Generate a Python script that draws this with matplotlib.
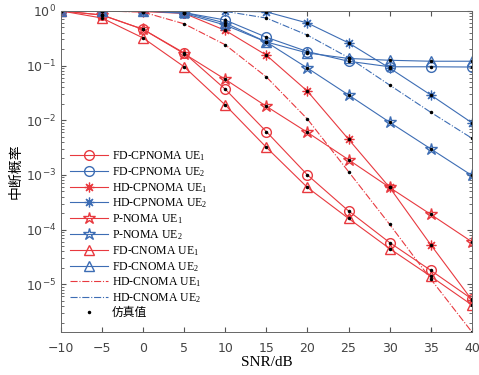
import numpy as np
import matplotlib.pyplot as plt

plt.rcParams['mathtext.default'] = 'regular'

snr = [-10, -5, 0, 5, 10, 15, 20, 25, 30, 35, 40]

# outage probability
fd_cp_ue1 = [1, 0.84, 0.46, 0.17, 0.037, 0.0062, 1.0e-3, 2.2e-4, 5.8e-5, 1.8e-5, 5.4e-6]
fd_cp_ue2 = [1, 1, 1, 0.93, 0.68, 0.33, 0.18, 0.12, 0.095, 0.095, 0.094]
hd_cp_ue1 = [1, 0.98, 0.97, 0.9, 0.44, 0.155, 0.034, 4.5e-3, 5.9e-4, 5.3e-5, 5.2e-6]
hd_cp_ue2 = [1, 1, 1, 1, 0.99, 0.96, 0.6, 0.26, 0.09, 0.029, 0.009]
p_ue1 = [1, 0.84, 0.46, 0.165, 0.056, 0.018, 6.0e-3, 1.9e-3, 5.9e-4, 1.9e-4, 6.0e-5]
p_ue2 = [1, 1, 1, 0.9, 0.55, 0.27, 0.09, 0.029, 0.0092, 0.003, 9.8e-4]
fd_c_ue1 = [1, 0.74, 0.32, 0.095, 0.019, 0.0032, 5.9e-4, 1.6e-4, 4.5e-5, 1.4e-5, 4.2e-6]
fd_c_ue2 = [1, 1, 1, 0.94, 0.6, 0.27, 0.17, 0.135, 0.125, 0.12, 0.12]
hd_c_ue1 = [1, 1, 0.95, 0.58, 0.24, 0.062, 0.0105, 1.15e-3, 1.25e-4, 1.25e-5, 1.35e-6]
hd_c_ue2 = [1, 1, 1, 1, 0.98, 0.74, 0.36, 0.14, 0.044, 0.014, 0.0047]

red = '#E8393F'
blue = '#3D6DB4'
ast = (8, 2, 0)

fig = plt.figure(figsize=(4.79, 3.75), dpi=100)
ax = fig.add_axes([0.127, 0.115, 0.858, 0.856])

lw = 0.8
ms = 7
ax.semilogy(snr, fd_cp_ue1, '-o', color=red, mfc='none', lw=lw, ms=ms, label='FD-CPNOMA UE$_1$')
ax.semilogy(snr, fd_cp_ue2, '-o', color=blue, mfc='none', lw=lw, ms=ms, label='FD-CPNOMA UE$_2$')
ax.semilogy(snr, hd_cp_ue1, '-', marker=ast, color=red, lw=lw, ms=ms, mew=0.9, label='HD-CPNOMA UE$_1$')
ax.semilogy(snr, hd_cp_ue2, '-', marker=ast, color=blue, lw=lw, ms=ms, mew=0.9, label='HD-CPNOMA UE$_2$')
ax.semilogy(snr, p_ue1, '-*', color=red, mfc='none', lw=lw, ms=ms + 2, label='P-NOMA UE$_1$')
ax.semilogy(snr, p_ue2, '-*', color=blue, mfc='none', lw=lw, ms=ms + 2, label='P-NOMA UE$_2$')
ax.semilogy(snr, fd_c_ue1, '-^', color=red, mfc='none', lw=lw, ms=ms, label='FD-CNOMA UE$_1$')
ax.semilogy(snr, fd_c_ue2, '-^', color=blue, mfc='none', lw=lw, ms=ms, label='FD-CNOMA UE$_2$')
ax.semilogy(snr, hd_c_ue1, '-.', color=red, lw=lw, label='HD-CNOMA UE$_1$')
ax.semilogy(snr, hd_c_ue2, '-.', color=blue, lw=lw, label='HD-CNOMA UE$_2$')

# simulation points
sims = [fd_cp_ue1, fd_cp_ue2, hd_cp_ue1, hd_cp_ue2, p_ue1, p_ue2,
        fd_c_ue1, fd_c_ue2, hd_c_ue1, hd_c_ue2]
for i, s in enumerate(sims):
    ax.semilogy(snr, s, '.', color='k', ms=3, ls='none',
                label='仿真值' if i == 0 else None)

ax.set_xlim(-10, 40)
ax.set_ylim(1.35e-6, 1)
ax.set_xticks(snr)
ax.tick_params(which='both', direction='in', top=True, right=True, labelsize=9, colors='#555555')
ax.tick_params(axis='x', pad=7)
ax.tick_params(labelcolor='#444444')
for sp in ax.spines.values():
    sp.set_color('#666666')
    sp.set_linewidth(0.7)

ax.set_xlabel('SNR/dB', family='Liberation Serif', fontsize=11, labelpad=1)
ax.set_ylabel('中断概率', family=['Noto Sans CJK SC', 'DejaVu Sans'], fontsize=10, labelpad=2)

leg = ax.legend(loc='lower left', bbox_to_anchor=(0.0, 0.01), frameon=False,
                prop={'family': ['Liberation Serif', 'Noto Sans CJK SC'], 'size': 8.5},
                handlelength=3.2, labelspacing=0.17, handletextpad=0.3, borderpad=0.3)

fig.savefig('out.png', dpi=100)
